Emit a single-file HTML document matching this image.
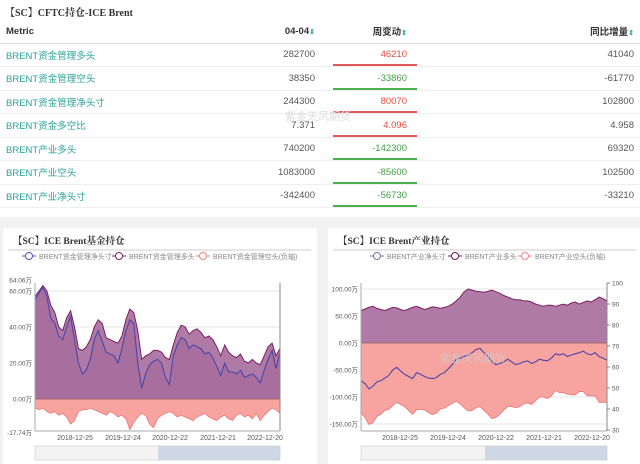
<!DOCTYPE html>
<html><head><meta charset="utf-8">
<style>
body{margin:0;width:640px;height:464px;background:#f2f2f2;font-family:"Liberation Sans","Noto Sans CJK SC",sans-serif;position:relative;overflow:hidden}
.panel{position:absolute;background:#fff}
.title{position:absolute;font-family:"Liberation Serif","Noto Serif CJK SC",serif;font-weight:bold;font-size:10px;color:#333}
table{position:absolute;left:0;top:20px;width:640px;border-collapse:collapse;font-size:9.5px}
td,th{height:22.5px;padding:0 6px;border-bottom:1px solid #eee;color:#555;font-weight:normal;text-align:right}
th{color:#333;font-weight:bold;border-bottom:1px solid #ddd}
td:first-child,th:first-child{text-align:left;color:#2aa198}
th:first-child{color:#333}
.r{color:#e74c3c;position:relative}.g{color:#43a047;position:relative}
.r::after,.g::after{content:"";position:absolute;left:12px;right:-4px;bottom:0;height:2px}
.r::after{background:#e05a5a}.g::after{background:#4caf50}
</style></head><body>
<div class="panel" style="left:0;top:0;width:640px;height:217px">
<div class="title" style="left:5px;top:4px">【SC】CFTC持仓-ICE Brent</div>
<table>
<tr><th>Metric</th><th style="width:60px">04-04<span style="color:#2aa198;font-size:7px">⇕</span></th><th style="width:80px">周变动<span style="color:#2aa198;font-size:7px">⇕</span></th><th style="width:215px">同比增量<span style="color:#2aa198;font-size:7px">⇕</span></th></tr>
<tr><td>BRENT资金管理多头</td><td>282700</td><td class="r">46210</td><td>41040</td></tr>
<tr><td>BRENT资金管理空头</td><td>38350</td><td class="g">-33860</td><td>-61770</td></tr>
<tr><td>BRENT资金管理净头寸</td><td>244300</td><td class="r">80070</td><td>102800</td></tr>
<tr><td>BRENT资金多空比</td><td>7.371</td><td class="r">4.096</td><td>4.958</td></tr>
<tr><td>BRENT产业多头</td><td>740200</td><td class="g">-142300</td><td>69320</td></tr>
<tr><td>BRENT产业空头</td><td>1083000</td><td class="g">-85600</td><td>102500</td></tr>
<tr><td>BRENT产业净头寸</td><td>-342400</td><td class="g">-56730</td><td>-33210</td></tr>
</table>
<div style="position:absolute;left:285px;top:108px;color:#ddd;font-size:11px">紫金天风期货</div>
</div>
<div class="panel" style="left:3px;top:228px;width:314px;height:236px"></div>
<div class="panel" style="left:328px;top:228px;width:312px;height:236px"></div>
<svg id="s" width="640" height="464" style="position:absolute;left:0;top:0;font-family:'Liberation Sans','Noto Sans CJK SC',sans-serif"></svg>
<script>
const dates=['2018-12-25','2019-12-24','2020-12-22','2021-12-21','2022-12-20'];
const fundLong=[57,60,63,60,52,48,40,38,45,49,40,28,27,29,33,40,44,42,34,33,32,31,35,44,50,48,38,22,24,25,27,27,26,23,22,30,37,41,40,36,38,39,37,34,35,33,29,24,30,26,24,23,25,21,20,22,20,19,24,29,31,24,28];
const fundNet=[55,59,62,57,45,42,35,33,40,46,33,20,14,16,22,33,38,32,26,25,24,20,28,38,44,42,20,6,14,19,21,22,20,12,8,24,30,34,33,28,30,29,28,25,26,23,18,13,20,15,15,14,16,12,13,14,12,9,16,22,27,17,26];
const fundShort=[-5,-6,-5,-7,-8,-7,-9,-8,-10,-14,-12,-7,-6,-6,-5,-6,-7,-8,-9,-7,-8,-10,-9,-11,-17,-13,-10,-8,-9,-14,-16,-11,-9,-8,-7,-8,-10,-9,-10,-11,-12,-10,-9,-8,-10,-11,-12,-10,-9,-11,-12,-9,-8,-10,-9,-11,-8,-12,-9,-7,-5,-6,-8];
const prodLong=[60,63,66,68,64,62,60,63,66,65,62,60,63,66,68,65,62,64,67,66,64,66,68,72,78,85,95,100,98,96,95,94,96,98,95,92,88,85,82,80,80,78,78,76,72,70,68,70,70,68,70,72,70,74,76,72,75,78,76,80,85,82,78];
const prodNet=[-70,-75,-85,-80,-72,-70,-65,-60,-50,-45,-52,-58,-62,-66,-55,-58,-62,-65,-66,-64,-58,-55,-48,-40,-30,-28,-25,-22,-18,-12,-10,-18,-25,-35,-40,-38,-35,-30,-35,-40,-38,-35,-33,-38,-35,-30,-32,-33,-28,-20,-22,-20,-25,-22,-20,-18,-15,-20,-22,-18,-25,-28,-32];
const prodShort=[-130,-138,-151,-148,-136,-132,-125,-123,-116,-110,-114,-118,-125,-132,-123,-123,-124,-129,-133,-130,-122,-121,-116,-112,-108,-113,-120,-126,-125,-120,-118,-125,-132,-140,-138,-132,-124,-118,-118,-120,-118,-113,-111,-114,-107,-100,-100,-103,-98,-88,-92,-92,-95,-96,-96,-90,-90,-98,-98,-98,-110,-110,-110];
const fundTicks=[0,20,40,60];
const prodTicks=[-150,-100,-50,0,50,100];
const rightTicks=[30,40,50,60,70,80,90,100];
const NS='http://www.w3.org/2000/svg', svg=document.getElementById('s');
function el(t,a,txt){const e=document.createElementNS(NS,t);for(const k in a)e.setAttribute(k,a[k]);if(txt!=null)e.textContent=txt;svg.appendChild(e);return e;}
function area(arr,xf,yf,y0){let d='M'+xf(0)+','+y0;arr.forEach((v,i)=>d+='L'+xf(i).toFixed(1)+','+yf(v).toFixed(1));return d+'L'+xf(arr.length-1)+','+y0+'Z';}
function line(arr,xf,yf){return arr.map((v,i)=>(i?'L':'M')+xf(i).toFixed(1)+','+yf(v).toFixed(1)).join('');}
function fmt(v){return v.toFixed(2)+'万';}
function chart(o){
  const xf=i=>o.x0+(o.x1-o.x0)*i/(o.n-1), yf=v=>o.yz-v*o.k;
  let t=el('text',{x:o.px+10,y:244,'font-size':9.5,'font-weight':'bold','font-family':"'Liberation Serif','Noto Serif CJK SC',serif",fill:'#333'},o.title);
  
  let hr=el('line',{x1:o.px+5,x2:o.px+308,y1:250,y2:250,stroke:'#ccc'});
  o.legend.forEach((lg,j)=>{const lx=o.lx[j];
    let g=el('line',{x1:lx,x2:lx+14,y1:256,y2:256,stroke:lg[1],'stroke-width':1});
    
    let c=el('circle',{cx:lx+7,cy:256,r:3.5,fill:'#fff',stroke:lg[1]});
    
    let tx=el('text',{x:lx+17,y:259,'font-size':7,fill:'#888'},lg[0]);
    });
  o.ticks.forEach(v=>{const y=yf(v);
    el('line',{x1:o.x0,x2:o.x1,y1:y,y2:y,stroke:'#e4e4e4'});
    let tx=el('text',{x:o.x0-3,y:y+2.5,'font-size':6.5,fill:'#555','text-anchor':'end'},fmt(v));
    });
  (o.extraLabels||[]).forEach(v=>{let tx=el('text',{x:o.x0-3,y:yf(v)+(v>0?-1:4),'font-size':6.5,fill:'#555','text-anchor':'end'},fmt(v));
    });
  let a1=el('path',{d:area(o.long,xf,yf,yf(0)),fill:o.longFill,stroke:'#7a1f5c','stroke-width':1});
  
  let a2=el('path',{d:area(o.short,xf,yf,yf(0)),fill:'#f7a3a0',stroke:'#ef6b6b','stroke-width':0.7});
  
  if(o.netFill){let a3=el('path',{d:area(o.net,xf,yf,yf(0)),fill:'#9a5a8e','fill-opacity':0.35,stroke:'none'});
    }
  let l=el('path',{d:line(o.net,xf,yf),fill:'none',stroke:'#4b45a8','stroke-width':1.1});
  
  el('line',{x1:o.x0,x2:o.x1,y1:yf(0),y2:yf(0),stroke:'#666','stroke-width':0.6});
  el('line',{x1:o.x0,x2:o.x0,y1:o.ytop,y2:o.ybot,stroke:'#aaa'});
  el('line',{x1:o.x1,x2:o.x1,y1:o.ytop,y2:o.ybot,stroke:'#888'});
  el('line',{x1:o.x0,x2:o.x1,y1:o.ybot,y2:o.ybot,stroke:'#aaa'});
  dates.forEach((d,j)=>{let tx=el('text',{x:o.dx[j],y:440,'font-size':7,fill:'#555','text-anchor':'middle'},d);
    });
  let sl=el('rect',{x:o.x0,y:446,width:o.x1-o.x0,height:14,fill:'#f3f3f3',stroke:'#ddd'});
  
  let sw=el('rect',{x:o.sx,y:446,width:o.x1-o.sx,height:14,fill:'#b6c6dc','fill-opacity':0.6});
  
}
chart({px:3,title:'【SC】ICE Brent基金持仓',x0:35,x1:280,n:fundLong.length,yz:399,k:1.8,ytop:283,ybot:431,
 ticks:fundTicks,extraLabels:[64.06,-17.74],long:fundLong,short:fundShort,net:fundNet,netFill:true,longFill:'#b07aa6',
 legend:[['BRENT资金管理净头寸','#5a4fa8'],['BRENT资金管理多头','#7a2060'],['BRENT资金管理空头(负轴)','#f08080']],lx:[22,112,196],
 dx:[75,123,170,218,265],sx:158});
chart({px:328,title:'【SC】ICE Brent产业持仓',x0:361,x1:607,n:prodLong.length,yz:343,k:0.54,ytop:283,ybot:431,
 ticks:prodTicks,long:prodLong,short:prodShort,net:prodNet,netFill:false,longFill:'#b07aa6',
 legend:[['BRENT产业净头寸','#7a6fb0'],['BRENT产业多头','#6a1a50'],['BRENT产业空头(负轴)','#f08080']],lx:[370,448,518],
 dx:[400,448,496,544,592],sx:485});
rightTicks.forEach(v=>{const y=430-(v-30)*2.1;
  el('line',{x1:607,x2:610,y1:y,y2:y,stroke:'#888'});
  let tx=el('text',{x:612,y:y+2.5,'font-size':6.5,fill:'#555'},v);
  });
let wm=el('text',{x:440,y:362,'font-size':11,fill:'#ccc','fill-opacity':0.8},'紫金天风期货');

</script>
</body></html>
